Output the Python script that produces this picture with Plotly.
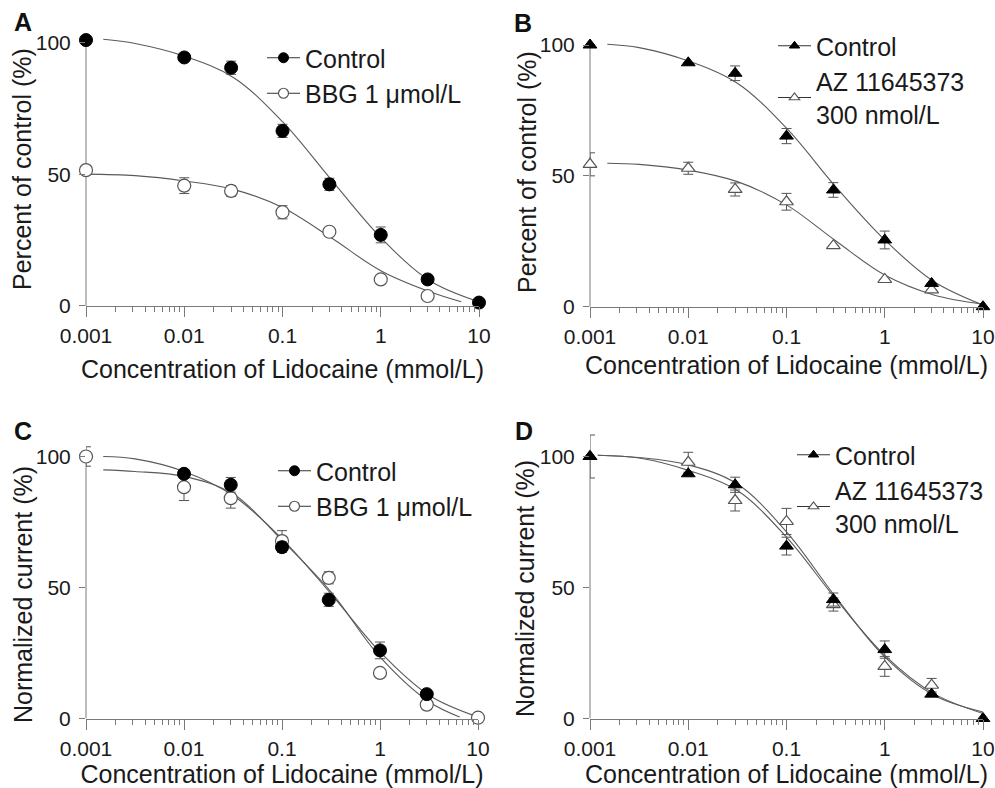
import plotly.graph_objects as go

# ---------------- data ----------------
CONC = [0.001, 0.01, 0.03, 0.1, 0.3, 1, 3, 10]
TICK_VALS = [0.001, 0.01, 0.1, 1, 10]
TICK_TEXT = ["0.001", "0.01", "0.1", "1", "10"]
MINOR_VALS = [m * d for d in (0.001, 0.01, 0.1, 1) for m in range(2, 10)]
Y_TICKS = [0, 50, 100]
X_TITLE = "Concentration of Lidocaine (mmol/L)"

# Panel A
A_CTRL_X = CONC
A_CTRL_Y = [101.0, 94.4, 90.5, 66.5, 46.2, 27.0, 10.1, 1.3]
A_CTRL_ERR = [0, 0, 2.5, 2.5, 2.3, 3.0, 0, 0]
A_BBG_X = [0.001, 0.01, 0.03, 0.1, 0.3, 1, 3]
A_BBG_Y = [51.6, 45.7, 43.7, 35.6, 28.2, 10.1, 3.8]
A_BBG_ERR = [0, 3.0, 2.0, 2.5, 0, 0, 0]
A_CTRL_FIT_X = [0.0015, 0.00316, 0.01, 0.0316, 0.1, 0.316, 1, 3.16, 10]
A_CTRL_FIT_Y = [101.3, 99.7, 94.9, 86.8, 70.0, 47.8, 26.0, 9.6, 1.6]
A_BBG_FIT_X = [0.001, 0.00316, 0.01, 0.0316, 0.1, 0.316, 1, 3.16, 6.6]
A_BBG_FIT_Y = [50.1, 49.5, 47.5, 44.3, 37.4, 25.8, 13.4, 5.4, 1.6]

# Panel B
B_CTRL_X = CONC
B_CTRL_Y = [100.0, 93.2, 89.2, 65.2, 44.6, 25.5, 8.9, 0.0]
B_CTRL_ERR = [0, 0, 2.8, 2.9, 2.8, 3.4, 0, 0]
B_AZ_X = [0.001, 0.01, 0.03, 0.1, 0.3, 1, 3]
B_AZ_Y = [54.4, 52.9, 44.8, 40.1, 23.3, 10.4, 6.4]
B_AZ_ERR = [4.4, 2.3, 2.5, 3.2, 0, 0, 0]
B_FIT_X = [0.0015, 0.00316, 0.01, 0.0316, 0.1, 0.316, 1, 3.16, 10]
B_CTRL_FIT_Y = [100.3, 99.0, 93.9, 85.4, 68.2, 45.9, 25.5, 9.6, 0.6]
B_AZ_FIT_Y = [54.8, 54.4, 52.2, 47.8, 38.9, 25.2, 12.1, 4.5, 1.0]

# Panel C
C_CTRL_X = [0.01, 0.03, 0.1, 0.3, 1, 3]
C_CTRL_Y = [93.4, 89.2, 65.4, 45.3, 26.0, 9.3]
C_CTRL_ERR = [0, 2.8, 2.0, 2.5, 3.2, 0]
C_BBG_X = CONC
C_BBG_Y = [100.0, 88.3, 84.1, 67.7, 53.7, 17.4, 5.3, 0.3]
C_BBG_ERR = [3.7, 5.1, 3.8, 4.0, 2.3, 0, 0, 0]
C_CTRL_FIT_X = [0.0015, 0.00316, 0.01, 0.0316, 0.1, 0.316, 1, 3.16, 10]
C_CTRL_FIT_Y = [100.0, 99.1, 94.3, 85.1, 68.6, 47.6, 25.4, 8.9, 0.6]
C_BBG_FIT_X = [0.0015, 0.00316, 0.01, 0.0316, 0.1, 0.316, 1, 3.16, 6.5]
C_BBG_FIT_Y = [94.9, 94.3, 92.4, 85.8, 68.0, 48.3, 23.5, 6.4, 0.6]

# Panel D
D_CTRL_X = CONC
D_CTRL_Y = [100.0, 93.4, 89.2, 65.8, 45.4, 26.3, 9.3, 0.0]
D_CTRL_ERR = [0, 0, 2.9, 3.4, 2.5, 3.3, 0, 0]
D_AZ_X = [0.001, 0.01, 0.03, 0.1, 0.3, 1, 3]
D_AZ_Y = [100.0, 97.8, 83.2, 75.2, 43.5, 19.9, 12.7]
D_AZ_ERR = [8.2, 3.8, 4.0, 5.0, 2.5, 3.8, 2.6]
D_FIT_X = [0.0012, 0.00316, 0.01, 0.0316, 0.1, 0.316, 1, 3.16, 10]
D_CTRL_FIT_Y = [100.5, 99.4, 94.7, 87.0, 69.2, 45.7, 24.1, 9.5, 1.9]
D_AZ_FIT_Y = [100.5, 99.6, 96.8, 89.5, 71.2, 46.4, 23.5, 8.9, 2.5]

# ---------------- styling ----------------
W, H = 995, 788
OFF = 0
FONT = "Liberation Sans, Arial, sans-serif"
TXT = "#1a1a1a"
AXC = "#7a7a7a"
CURVE = "#5a5a5a"
ERRC = "#555555"

FILLED_CIRCLE = dict(symbol="circle", size=13, color="#000000", line=dict(color="#000000", width=1))
OPEN_CIRCLE = dict(symbol="circle", size=13, color="#ffffff", line=dict(color="#555555", width=1.2))
FILLED_TRI = dict(symbol="triangle-up", size=12, color="#000000", line=dict(color="#000000", width=1))
OPEN_TRI = dict(symbol="triangle-up", size=12, color="#ffffff", line=dict(color="#555555", width=1.2))

panels = [
    dict(sfx="", left=86, right=479, y0=306.0, y100=42.7, ymax=104, ytitle="Percent of control (%)",
         tx=22, ty=169, xstand=14, letter="A", lx=23, ly=22,
         series=[(A_CTRL_FIT_X, A_CTRL_FIT_Y), (A_BBG_FIT_X, A_BBG_FIT_Y)],
         points=[(A_BBG_X, A_BBG_Y, A_BBG_ERR, OPEN_CIRCLE), (A_CTRL_X, A_CTRL_Y, A_CTRL_ERR, FILLED_CIRCLE)],
         legend=[("Control", FILLED_CIRCLE), ("BBG 1 μmol/L", OPEN_CIRCLE)],
         leg_x=262, leg_top=35),
    dict(sfx="2", left=590, right=983, y0=306.7, y100=45.0, ymax=104, ytitle="Percent of control (%)",
         tx=527, ty=172, xstand=9, letter="B", lx=523, ly=23,
         series=[(B_FIT_X, B_CTRL_FIT_Y), (B_FIT_X, B_AZ_FIT_Y)],
         points=[(B_AZ_X, B_AZ_Y, B_AZ_ERR, OPEN_TRI), (B_CTRL_X, B_CTRL_Y, B_CTRL_ERR, FILLED_TRI)],
         legend=[("Control", FILLED_TRI), ("AZ 11645373<br>300 nmol/L", OPEN_TRI)],
         leg_x=773, leg_top=23),
    dict(sfx="3", left=86, right=478, y0=718.5, y100=456.5, ymax=106, ytitle="Normalized current (%)",
         tx=23, ty=595, xstand=12, letter="C", lx=23, ly=431,
         series=[(C_CTRL_FIT_X, C_CTRL_FIT_Y), (C_BBG_FIT_X, C_BBG_FIT_Y)],
         points=[(C_BBG_X, C_BBG_Y, C_BBG_ERR, OPEN_CIRCLE), (C_CTRL_X, C_CTRL_Y, C_CTRL_ERR, FILLED_CIRCLE)],
         legend=[("Control", FILLED_CIRCLE), ("BBG 1 μmol/L", OPEN_CIRCLE)],
         leg_x=273, leg_top=448),
    dict(sfx="4", left=590, right=983, y0=718.5, y100=456.5, ymax=110, ytitle="Normalized current (%)",
         tx=525, ty=589, xstand=12, letter="D", lx=524, ly=431,
         series=[(D_FIT_X, D_CTRL_FIT_Y), (D_FIT_X, D_AZ_FIT_Y)],
         points=[(D_AZ_X, D_AZ_Y, D_AZ_ERR, OPEN_TRI), (D_CTRL_X, D_CTRL_Y, D_CTRL_ERR, FILLED_TRI)],
         legend=[("Control", FILLED_TRI), ("AZ 11645373<br>300 nmol/L", OPEN_TRI)],
         leg_x=792, leg_top=432),
]


def fx_(px):
    return (px - OFF) / W


def fy_(py):
    return 1 - (py - OFF) / H


fig = go.Figure()
layout = dict(
    width=W, height=H, margin=dict(l=0, r=0, t=0, b=0, autoexpand=False),
    paper_bgcolor="white", plot_bgcolor="white",
    font=dict(family=FONT, color=TXT),
    shapes=[], annotations=[],
)

for i, p in enumerate(panels):
    s = p["sfx"]
    xa, ya = "x" + s, "y" + s
    leg = "legend" + s
    scale = (p["y0"] - p["y100"]) / 100.0
    top_px = p["y0"] - p["ymax"] * scale
    xdom = [fx_(p["left"]), fx_(p["right"])]
    ydom = [fy_(p["y0"]), fy_(top_px)]

    for cx, cy in p["series"]:
        fig.add_trace(go.Scatter(x=cx, y=cy, mode="lines", line=dict(color=CURVE, width=1.1, shape="spline"),
                                 showlegend=False, hoverinfo="skip", xaxis=xa, yaxis=ya))
    for px, py, pe, mk in p["points"]:
        fig.add_trace(go.Scatter(x=px, y=py, mode="markers", marker=mk, cliponaxis=False,
                                 error_y=dict(type="data", array=pe, visible=True, color=ERRC, thickness=1, width=5),
                                 showlegend=False, xaxis=xa, yaxis=ya))
    for name, mk in p["legend"]:
        lm = dict(mk)
        lm["size"] = 10 if mk["symbol"] == "circle" else 9
        fig.add_trace(go.Scatter(x=[None], y=[None], mode="lines+markers", name=name, marker=lm,
                                 line=dict(color="#333333", width=1), legend=leg, xaxis=xa, yaxis=ya))

    layout["xaxis" + s] = dict(
        type="log", range=[-3, 1], domain=xdom, anchor=ya, automargin=False,
        showline=True, linecolor=AXC, linewidth=1, showgrid=False, zeroline=False,
        ticks="outside", ticklen=10, tickwidth=1, tickcolor=AXC,
        tickmode="array", tickvals=TICK_VALS, ticktext=TICK_TEXT,
        tickfont=dict(size=21, color=TXT, family=FONT), ticklabelstandoff=1,
        minor=dict(tickmode="array", tickvals=MINOR_VALS, ticks="outside", ticklen=5, tickcolor=AXC, tickwidth=1),
        title=dict(text=X_TITLE, font=dict(size=25, color=TXT, family=FONT), standoff=p["xstand"]),
    )
    layout["yaxis" + s] = dict(
        range=[0, p["ymax"]], domain=ydom, anchor=xa, automargin=False,
        showline=False, showgrid=False, zeroline=False,
        ticks="outside", ticklen=6, tickwidth=1, tickcolor=AXC,
        tickmode="array", tickvals=Y_TICKS,
        tickfont=dict(size=21, color=TXT, family=FONT), ticklabelstandoff=4,
    )
    layout["shapes"].append(dict(type="line", xref=xa + " domain", yref=ya, x0=0, x1=0, y0=0, y1=100,
                                 line=dict(color=AXC, width=1), layer="below"))
    layout[leg] = dict(
        x=fx_(p["leg_x"]), y=fy_(p["leg_top"]), xanchor="left", yanchor="top",
        bgcolor="rgba(0,0,0,0)", borderwidth=0, itemwidth=33, tracegroupgap=0,
        font=dict(size=25, color=TXT, family=FONT), valign="middle",
    )
    layout["annotations"].append(dict(text=p["ytitle"], x=fx_(p["tx"]), y=fy_(p["ty"]), textangle=-90,
                                      xref="paper", yref="paper", xanchor="center", yanchor="middle",
                                      showarrow=False, font=dict(size=25, color=TXT, family=FONT)))
    layout["annotations"].append(dict(text="<b>%s</b>" % p["letter"], x=fx_(p["lx"]), y=fy_(p["ly"]),
                                      xref="paper", yref="paper", xanchor="center", yanchor="middle",
                                      showarrow=False, font=dict(size=25, color="#111111", family=FONT)))

fig.update_layout(**layout)
fig.write_html(
    "out.html",
    config={"displayModeBar": False},
    post_script="document.body.style.margin='0';document.documentElement.style.overflow='hidden';",
)
